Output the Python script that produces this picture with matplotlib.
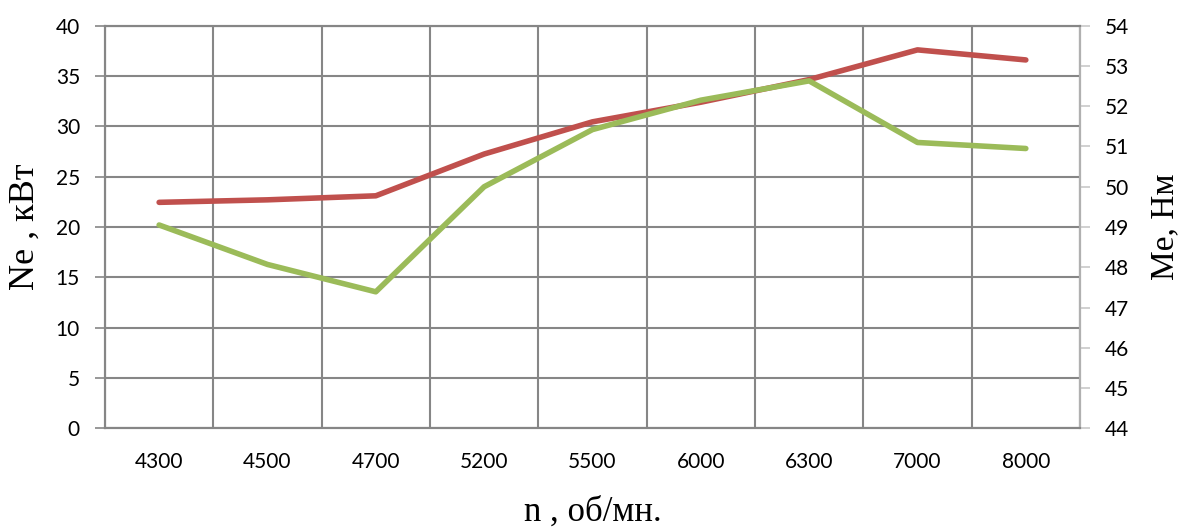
import matplotlib
matplotlib.use("Agg")
import matplotlib.pyplot as plt
import numpy as np

# engine speed categories and measured curves
rpm = ["4300", "4500", "4700", "5200", "5500", "6000", "6300", "7000", "8000"]
ne_kw = [22.45, 22.7, 23.1, 27.25, 30.45, 32.4, 34.65, 37.6, 36.6]
me_nm = [49.05, 48.07, 47.39, 50.0, 51.42, 52.15, 52.63, 51.1, 50.95]

grid_col = "#868686"
tick_font = "Lato"
label_font = "Liberation Serif"

fig = plt.figure(figsize=(11.82, 5.27), dpi=100)
ax = fig.add_axes([0.0888, 0.1873, 0.8249, 0.7639])
ax2 = ax.twinx()

x = np.arange(len(rpm))
ax.plot(x, ne_kw, color="#C0504D", lw=4, solid_capstyle="round", zorder=3)
ax2.plot(x, me_nm, color="#9BBB59", lw=4, solid_capstyle="round", zorder=3)

ax.set_xlim(-0.5, len(rpm) - 0.5)
ax.set_ylim(0, 40)
ax.set_yticks(np.arange(0, 41, 5))
ax2.set_ylim(44, 54)
ax2.set_yticks(np.arange(44, 55, 1))

# gridlines between categories (Excel style)
for b in np.arange(-0.5, len(rpm), 1.0):
    ax.axvline(b, color=grid_col, lw=1.5, zorder=1)
ax.yaxis.grid(True, color=grid_col, lw=1.5, zorder=1)
ax.set_axisbelow(True)

ax.set_xticks(x)
ax.set_xticklabels(rpm)
ax.tick_params(axis="x", length=0, pad=17, labelsize=15)
ax.tick_params(axis="y", length=7, width=1.2, color=grid_col, pad=11, labelsize=15)
ax2.tick_params(axis="y", length=7, width=1.2, color="#c8c8c8", pad=11, labelsize=15)
for lab in ax.get_xticklabels() + ax.get_yticklabels() + ax2.get_yticklabels():
    lab.set_fontfamily(tick_font)

for a in (ax, ax2):
    for s in a.spines.values():
        s.set_color(grid_col)
        s.set_linewidth(1.5)
ax2.spines["right"].set_color("#b0b0b0")

ax.set_xlabel("n , об/мн.", fontfamily=label_font, fontsize=25, labelpad=17)
ax.set_ylabel("Ne , кВт", fontfamily=label_font, fontsize=26, labelpad=10)
ax2.set_ylabel("Me, Нм", fontfamily=label_font, fontsize=24, labelpad=15)

fig.savefig("out.png", dpi=100, facecolor="white")
